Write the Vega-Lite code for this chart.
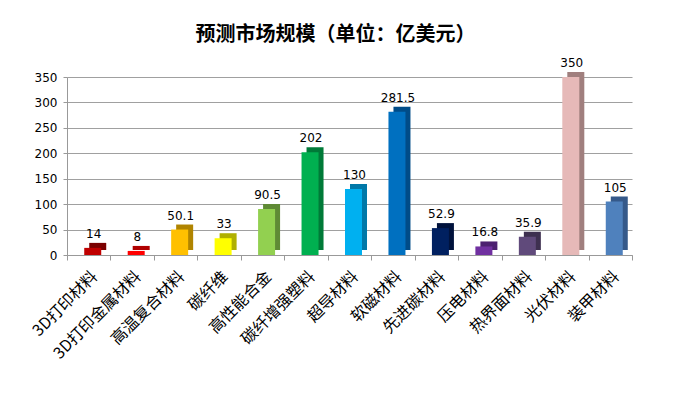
{
  "$schema": "https://vega.github.io/schema/vega-lite/v6.json",
  "width": 565,
  "height": 178,
  "autosize": {"type": "none"},
  "padding": {"left": 67, "top": 77, "right": 48, "bottom": 143},
  "background": "white",
  "title": {
    "text": "预测市场规模（单位：亿美元）",
    "font": "Noto Sans CJK SC",
    "fontSize": 20,
    "fontWeight": "bold",
    "color": "#000000",
    "offset": 12,
    "anchor": "middle",
    "dx": -14
  },
  "data": {
    "values": [
      {"cat": "3D打印材料", "v": 14},
      {"cat": "3D打印金属材料", "v": 8},
      {"cat": "高温复合材料", "v": 50.1},
      {"cat": "碳纤维", "v": 33},
      {"cat": "高性能合金", "v": 90.5},
      {"cat": "碳纤增强塑料", "v": 202},
      {"cat": "超导材料", "v": 130},
      {"cat": "软磁材料", "v": 281.5},
      {"cat": "先进碳材料", "v": 52.9},
      {"cat": "压电材料", "v": 16.8},
      {"cat": "热界面材料", "v": 35.9},
      {"cat": "光伏材料", "v": 350},
      {"cat": "装甲材料", "v": 105}
    ]
  },
  "encoding": {
    "x": {
      "field": "cat",
      "type": "nominal",
      "sort": null,
      "scale": {"paddingInner": 0, "paddingOuter": 0},
      "axis": {
        "title": null,
        "labelAngle": -45,
        "labelFont": "Noto Sans CJK SC",
        "labelFontSize": 16,
        "labelColor": "#000000",
        "labelPadding": 8,
        "tickBand": "extent",
        "tickColor": "#999999",
        "tickSize": 5,
        "domainColor": "#999999",
        "grid": false
      }
    },
    "y": {
      "field": "v",
      "type": "quantitative",
      "scale": {"domain": [0, 350], "nice": false},
      "axis": {
        "title": null,
        "values": [0, 50, 100, 150, 200, 250, 300, 350],
        "labelFont": "DejaVu Sans",
        "labelFontSize": 12,
        "labelColor": "#000000",
        "labelPadding": 6,
        "tickSize": 4,
        "tickColor": "#999999",
        "domainColor": "#999999",
        "gridColor": "#A0A0A0",
        "gridWidth": 1.2
      }
    }
  },
  "layer": [
    {
      "mark": {"type": "bar", "width": 17, "xOffset": 9, "yOffset": -5},
      "encoding": {
        "color": {
          "field": "cat",
          "type": "nominal",
          "sort": null,
          "legend": null,
          "scale": {
            "range": ["#7A0000", "#B00000", "#B08400", "#B0B000", "#5F8A35", "#007A38", "#0078A8", "#004C88", "#00123C", "#4C2070", "#3E3050", "#A07F7E", "#35598A"]
          }
        }
      }
    },
    {
      "mark": {"type": "bar", "width": 17, "xOffset": 4},
      "encoding": {
        "color": {
          "field": "cat",
          "type": "nominal",
          "sort": null,
          "legend": null,
          "scale": {
            "range": ["#C00000", "#FF0000", "#FFC000", "#FFFF00", "#92D050", "#00B050", "#00B0F0", "#0070C0", "#002060", "#7030A0", "#604A7B", "#E6B9B8", "#4F81BD"]
          }
        }
      }
    },
    {
      "mark": {"type": "text", "dx": 5, "dy": -14, "font": "DejaVu Sans", "fontSize": 12, "color": "#000000"},
      "encoding": {"text": {"field": "v", "type": "quantitative"}}
    }
  ],
  "resolve": {"scale": {"color": "independent"}},
  "config": {"view": {"stroke": null}}
}
